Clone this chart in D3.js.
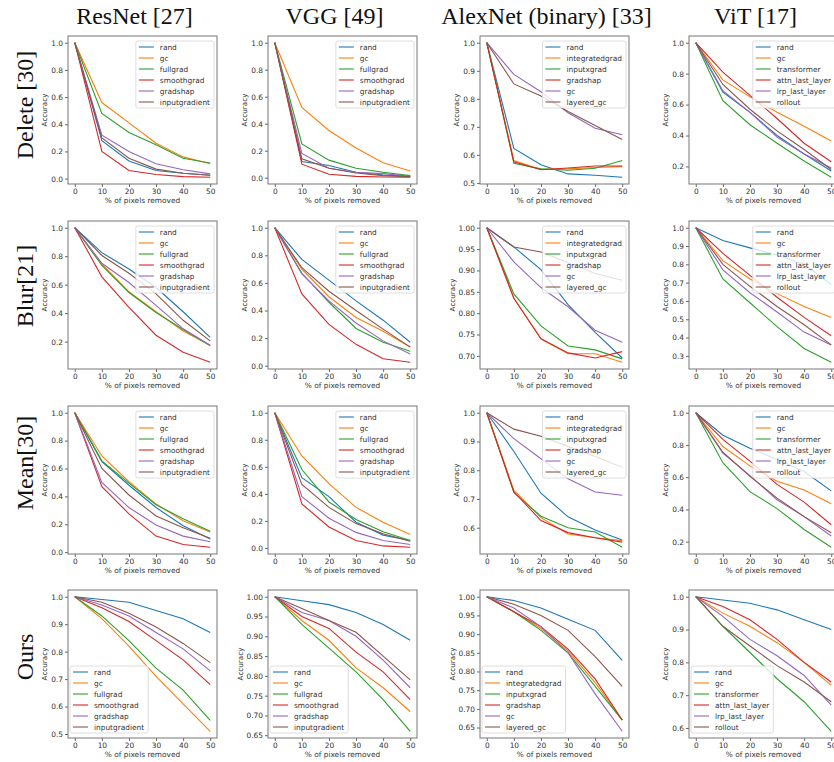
<!DOCTYPE html>
<html>
<head>
<meta charset="utf-8">
<script src="https://cdn.jsdelivr.net/npm/d3@7"></script>
<style>
  body { margin: 0; background: #fff; }
  svg text { font-family: "DejaVu Sans", sans-serif; fill: #333; }
  .title { font-family: "Liberation Serif", serif !important; font-size: 24px; fill: #111 !important; }
</style>
</head>
<body>
<svg id="chart" width="834" height="762"></svg>
<script>
// x values shared by every panel
var xPct = [0, 10, 20, 30, 40, 50];

var columnTitles = ["ResNet [27]", "VGG [49]", "AlexNet (binary) [33]", "ViT [17]"];
var rowTitles = ["Delete [30]", "Blur[21]", "Mean[30]", "Ours"];

var cnnMethods = ["rand", "gc", "fullgrad", "smoothgrad", "gradshap", "inputgradient"];
var alexMethods = ["rand", "integratedgrad", "inputxgrad", "gradshap", "gc", "layered_gc"];
var vitMethods = ["rand", "gc", "transformer", "attn_last_layer", "lrp_last_layer", "rollout"];

// ---- Delete ----
var deleteResNet = [
  [1.0, 0.28, 0.13, 0.06, 0.04, 0.025],
  [1.0, 0.56, 0.41, 0.26, 0.16, 0.11],
  [1.0, 0.48, 0.34, 0.25, 0.15, 0.115],
  [1.0, 0.20, 0.06, 0.03, 0.015, 0.01],
  [1.0, 0.32, 0.20, 0.11, 0.065, 0.035],
  [1.0, 0.30, 0.15, 0.07, 0.04, 0.025]];
var deleteVGG = [
  [1.0, 0.12, 0.09, 0.04, 0.02, 0.01],
  [1.0, 0.52, 0.35, 0.22, 0.11, 0.05],
  [1.0, 0.25, 0.13, 0.07, 0.04, 0.015],
  [1.0, 0.10, 0.025, 0.01, 0.005, 0.003],
  [1.0, 0.18, 0.07, 0.04, 0.03, 0.01],
  [1.0, 0.14, 0.07, 0.035, 0.015, 0.008]];
var deleteAlex = [
  [1.0, 0.623, 0.565, 0.532, 0.527, 0.52],
  [1.0, 0.58, 0.548, 0.55, 0.555, 0.558],
  [1.0, 0.57, 0.55, 0.545, 0.552, 0.58],
  [1.0, 0.575, 0.547, 0.553, 0.56, 0.56],
  [1.0, 0.887, 0.825, 0.75, 0.695, 0.672],
  [1.0, 0.853, 0.81, 0.755, 0.705, 0.655]];
var deleteViT = [
  [1.0, 0.68, 0.55, 0.40, 0.28, 0.17],
  [1.0, 0.76, 0.65, 0.55, 0.46, 0.365],
  [1.0, 0.625, 0.47, 0.35, 0.235, 0.13],
  [1.0, 0.81, 0.66, 0.51, 0.35, 0.23],
  [1.0, 0.69, 0.55, 0.39, 0.28, 0.19],
  [1.0, 0.73, 0.57, 0.43, 0.31, 0.18]];

// ---- Blur ----
var blurResNet = [
  [1.0, 0.825, 0.71, 0.58, 0.41, 0.23],
  [1.0, 0.745, 0.55, 0.41, 0.275, 0.175],
  [1.0, 0.735, 0.545, 0.405, 0.285, 0.17],
  [1.0, 0.655, 0.44, 0.245, 0.125, 0.055],
  [1.0, 0.75, 0.615, 0.455, 0.29, 0.175],
  [1.0, 0.805, 0.68, 0.535, 0.35, 0.205]];
var blurVGG = [
  [1.0, 0.77, 0.62, 0.47, 0.33, 0.17],
  [1.0, 0.70, 0.50, 0.35, 0.25, 0.135],
  [1.0, 0.67, 0.46, 0.27, 0.17, 0.105],
  [1.0, 0.52, 0.30, 0.155, 0.05, 0.025],
  [1.0, 0.665, 0.47, 0.31, 0.18, 0.085],
  [1.0, 0.71, 0.54, 0.40, 0.265, 0.135]];
var blurAlex = [
  [1.0, 0.955, 0.902, 0.82, 0.755, 0.695],
  [1.0, 0.835, 0.74, 0.705, 0.705, 0.685],
  [1.0, 0.845, 0.77, 0.723, 0.714, 0.693],
  [1.0, 0.835, 0.74, 0.707, 0.695, 0.71],
  [1.0, 0.92, 0.86, 0.815, 0.76, 0.732],
  [1.0, 0.955, 0.943, 0.918, 0.893, 0.877]];
var blurViT = [
  [1.0, 0.93, 0.89, 0.85, 0.80, 0.69],
  [1.0, 0.82, 0.72, 0.64, 0.57, 0.51],
  [1.0, 0.72, 0.59, 0.46, 0.34, 0.265],
  [1.0, 0.86, 0.74, 0.62, 0.51, 0.41],
  [1.0, 0.77, 0.645, 0.54, 0.43, 0.36],
  [1.0, 0.80, 0.68, 0.57, 0.47, 0.36]];

// ---- Mean ----
var meanResNet = [
  [1.0, 0.65, 0.48, 0.32, 0.19, 0.095],
  [1.0, 0.69, 0.505, 0.345, 0.225, 0.145],
  [1.0, 0.655, 0.495, 0.34, 0.24, 0.15],
  [1.0, 0.47, 0.275, 0.115, 0.055, 0.035],
  [1.0, 0.50, 0.32, 0.195, 0.115, 0.075],
  [1.0, 0.60, 0.41, 0.26, 0.175, 0.10]];
var meanVGG = [
  [1.0, 0.52, 0.38, 0.19, 0.095, 0.055],
  [1.0, 0.68, 0.475, 0.30, 0.19, 0.10],
  [1.0, 0.58, 0.34, 0.21, 0.12, 0.055],
  [1.0, 0.325, 0.155, 0.055, 0.015, 0.005],
  [1.0, 0.38, 0.22, 0.115, 0.055, 0.025],
  [1.0, 0.47, 0.30, 0.18, 0.105, 0.05]];
var meanAlex = [
  [1.0, 0.865, 0.72, 0.638, 0.592, 0.557],
  [1.0, 0.73, 0.635, 0.578, 0.565, 0.555],
  [1.0, 0.722, 0.64, 0.60, 0.585, 0.532],
  [1.0, 0.725, 0.625, 0.583, 0.565, 0.55],
  [1.0, 0.91, 0.84, 0.77, 0.724, 0.713],
  [1.0, 0.943, 0.918, 0.883, 0.848, 0.81]];
var meanViT = [
  [1.0, 0.86, 0.78, 0.71, 0.635, 0.515],
  [1.0, 0.79, 0.67, 0.575, 0.52, 0.435],
  [1.0, 0.69, 0.51, 0.405, 0.275, 0.165],
  [1.0, 0.835, 0.70, 0.555, 0.445, 0.305],
  [1.0, 0.75, 0.61, 0.46, 0.355, 0.235],
  [1.0, 0.755, 0.605, 0.47, 0.355, 0.255]];

// ---- Ours ----
var oursResNet = [
  [1.0, 0.99, 0.98, 0.95, 0.92, 0.87],
  [1.0, 0.92, 0.82, 0.71, 0.61, 0.51],
  [1.0, 0.93, 0.84, 0.74, 0.66, 0.55],
  [1.0, 0.96, 0.91, 0.84, 0.77, 0.68],
  [1.0, 0.97, 0.93, 0.87, 0.81, 0.73],
  [1.0, 0.98, 0.94, 0.89, 0.83, 0.76]];
var oursVGG = [
  [1.0, 0.99, 0.98, 0.96, 0.93, 0.89],
  [1.0, 0.94, 0.89, 0.82, 0.77, 0.71],
  [1.0, 0.93, 0.87, 0.81, 0.74, 0.66],
  [1.0, 0.95, 0.92, 0.86, 0.81, 0.74],
  [1.0, 0.96, 0.94, 0.90, 0.84, 0.77],
  [1.0, 0.97, 0.94, 0.91, 0.85, 0.79]];
var oursAlex = [
  [1.0, 0.99, 0.97, 0.94, 0.91, 0.83],
  [1.0, 0.96, 0.915, 0.855, 0.77, 0.67],
  [1.0, 0.96, 0.91, 0.85, 0.76, 0.67],
  [1.0, 0.96, 0.92, 0.86, 0.78, 0.67],
  [1.0, 0.97, 0.92, 0.85, 0.74, 0.64],
  [1.0, 0.98, 0.95, 0.91, 0.84, 0.76]];
var oursViT = [
  [1.0, 0.99, 0.98, 0.96, 0.93, 0.90],
  [1.0, 0.95, 0.91, 0.86, 0.80, 0.73],
  [1.0, 0.91, 0.83, 0.75, 0.68, 0.59],
  [1.0, 0.97, 0.93, 0.87, 0.80, 0.74],
  [1.0, 0.94, 0.87, 0.82, 0.76, 0.67],
  [1.0, 0.91, 0.85, 0.79, 0.74, 0.68]];

// y tick labels for each panel, row by row
var ticksUnit = [0.0, 0.2, 0.4, 0.6, 0.8, 1.0];
var ticksAlexDelete = [0.5, 0.6, 0.7, 0.8, 0.9, 1.0];
var ticksViTDelete = [0.2, 0.4, 0.6, 0.8, 1.0];
var ticksResNetBlur = [0.2, 0.4, 0.6, 0.8, 1.0];
var ticksAlexBlur = [0.70, 0.75, 0.80, 0.85, 0.90, 0.95, 1.00];
var ticksViTBlur = [0.3, 0.4, 0.5, 0.6, 0.7, 0.8, 0.9, 1.0];
var ticksAlexMean = [0.6, 0.7, 0.8, 0.9, 1.0];
var ticksViTMean = [0.2, 0.4, 0.6, 0.8, 1.0];
var ticksResNetOurs = [0.5, 0.6, 0.7, 0.8, 0.9, 1.0];
var ticksHalfOurs = [0.65, 0.70, 0.75, 0.80, 0.85, 0.90, 0.95, 1.00];
var ticksViTOurs = [0.6, 0.7, 0.8, 0.9, 1.0];

var colors = ["#1f77b4", "#ff7f0e", "#2ca02c", "#d62728", "#9467bd", "#8c564b"];

// panel layout (frame positions in pixels)
var colLeft = [68, 268, 480, 689];
var rowTop = [36, 221, 406, 590];
var rowTitleY = [105, 286, 463, 657];
var W = 149, H = 148;

var svg = d3.select("#chart");

var panels = [
  [deleteResNet, cnnMethods, ticksUnit, ".1f"], [deleteVGG, cnnMethods, ticksUnit, ".1f"],
  [deleteAlex, alexMethods, ticksAlexDelete, ".1f"], [deleteViT, vitMethods, ticksViTDelete, ".1f"],
  [blurResNet, cnnMethods, ticksResNetBlur, ".1f"], [blurVGG, cnnMethods, ticksUnit, ".1f"],
  [blurAlex, alexMethods, ticksAlexBlur, ".2f"], [blurViT, vitMethods, ticksViTBlur, ".1f"],
  [meanResNet, cnnMethods, ticksUnit, ".1f"], [meanVGG, cnnMethods, ticksUnit, ".1f"],
  [meanAlex, alexMethods, ticksAlexMean, ".1f"], [meanViT, vitMethods, ticksViTMean, ".1f"],
  [oursResNet, cnnMethods, ticksResNetOurs, ".1f"], [oursVGG, cnnMethods, ticksHalfOurs, ".2f"],
  [oursAlex, alexMethods, ticksHalfOurs, ".2f"], [oursViT, vitMethods, ticksViTOurs, ".1f"]
];

panels.forEach(function(p, i) {
  var r = Math.floor(i / 4), c = i % 4;
  drawPanel(colLeft[c], rowTop[r], p[0], p[1], p[2], p[3], r == 3 ? "lower left" : "upper right");
});

// column titles
columnTitles.forEach(function(t, c) {
  svg.append("text").attr("class", "title")
    .attr("x", colLeft[c] + W / 2 - 8).attr("y", 24)
    .attr("text-anchor", "middle").text(t);
});

// row titles
rowTitles.forEach(function(t, r) {
  svg.append("text").attr("class", "title")
    .attr("transform", "translate(33," + rowTitleY[r] + ") rotate(-90)")
    .attr("text-anchor", "middle").text(t);
});

function drawPanel(px, py, values, methods, yTicks, yFmt, legendPos) {
  var g = svg.append("g").attr("transform", "translate(" + px + "," + py + ")");
  var all = values.flat();
  var lo = d3.min(all), hi = d3.max(all), pad = (hi - lo) * 0.05;

  var x = d3.scaleLinear().domain([-2.5, 52.5]).range([0, W]);
  var y = d3.scaleLinear().domain([lo - pad, hi + pad]).range([H, 0]);

  var line = d3.line()
    .x(function(d, j) { return x(xPct[j]); })
    .y(function(d) { return y(d); });

  g.selectAll("path.series")
    .data(values)
    .enter().append("path")
    .attr("class", "series")
    .attr("d", line)
    .attr("fill", "none")
    .attr("stroke", function(d, k) { return colors[k]; })
    .attr("stroke-width", 1.1);

  var xAxis = g.append("g").attr("transform", "translate(0," + H + ")")
    .call(d3.axisBottom(x).tickValues(xPct).tickSize(3).tickPadding(2).tickFormat(d3.format("d")));
  var yAxis = g.append("g")
    .call(d3.axisLeft(y).tickValues(yTicks).tickSize(3).tickPadding(2).tickFormat(d3.format(yFmt)));
  [xAxis, yAxis].forEach(function(a) {
    a.select(".domain").remove();
    a.selectAll("line").attr("stroke", "#666");
    a.selectAll("text").style("font-size", "7.4px").attr("fill", "#333");
  });

  // frame
  g.append("rect").attr("width", W).attr("height", H)
    .attr("fill", "none").attr("stroke", "#777").attr("stroke-width", 1);

  g.append("text")
    .attr("x", W / 2).attr("y", H + 19)
    .attr("text-anchor", "middle")
    .style("font-size", "7.4px")
    .text("% of pixels removed");

  var tickW = yFmt == ".2f" ? 15 : 11;
  g.append("text")
    .attr("transform", "translate(" + (-(tickW + 10)) + "," + (H / 2) + ") rotate(-90)")
    .attr("text-anchor", "middle")
    .style("font-size", "7.2px")
    .text("Accuracy");

  // legend
  var leg = g.append("g");
  var box = leg.append("rect")
    .attr("rx", 2).attr("ry", 2)
    .attr("fill", "white").attr("fill-opacity", 0.8)
    .attr("stroke", "#d5d5d5").attr("stroke-width", 0.8);
  var texts = [];
  methods.forEach(function(m, k) {
    leg.append("line")
      .attr("x1", 3).attr("x2", 18)
      .attr("y1", 6 + k * 11).attr("y2", 6 + k * 11)
      .attr("stroke", colors[k]).attr("stroke-width", 1.1);
    texts.push(leg.append("text")
      .attr("x", 24).attr("y", 6 + k * 11).attr("dy", "0.35em")
      .style("font-size", "7.4px")
      .text(m));
  });
  var maxW = d3.max(texts, function(t) { return t.node().getComputedTextLength(); });
  var bw = 24 + maxW + 4, bh = 6 * 11 + 1;
  box.attr("width", bw).attr("height", bh);
  if (legendPos == "upper right") {
    leg.attr("transform", "translate(" + (W - 3 - bw) + ",5)");
  } else {
    leg.attr("transform", "translate(2," + (H - 5 - bh) + ")");
  }
}
</script>
</body>
</html>
